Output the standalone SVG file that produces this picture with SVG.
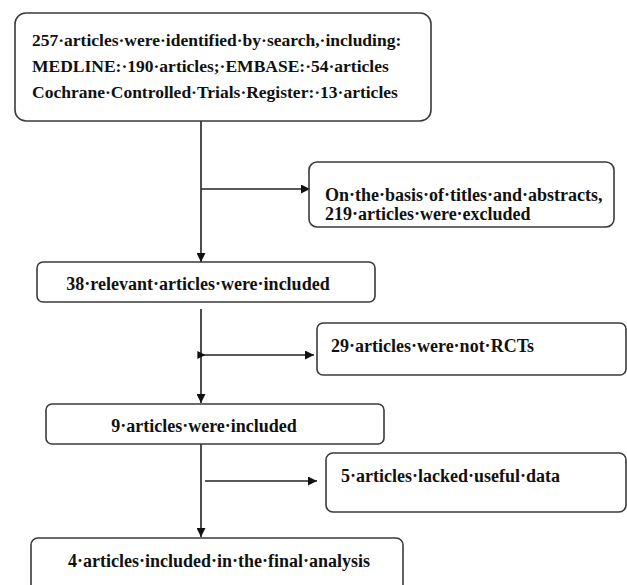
<svg xmlns="http://www.w3.org/2000/svg" width="627" height="585" viewBox="0 0 627 585">
<defs>
<style>
.box{fill:#fff;stroke:#3a3a3a;stroke-width:1.6}
.t{font-family:"Liberation Serif","Times New Roman",serif;font-weight:bold;font-size:18px;fill:#111}
.s{font-size:17.5px}
.c{text-anchor:middle}
.ln{fill:none;stroke:#222;stroke-width:1.6}
</style>
<marker id="ah" viewBox="0 0 10 10" refX="10" refY="5" markerWidth="9" markerHeight="9" markerUnits="userSpaceOnUse" orient="auto">
<path d="M0 0 L10 5 L0 10 Z" fill="#111"/>
</marker>
<marker id="as" viewBox="0 0 10 10" refX="2" refY="5" markerWidth="8" markerHeight="8" markerUnits="userSpaceOnUse" orient="auto">
<path d="M0 0 L10 5 L0 10 Z" fill="#111"/>
</marker>
</defs>
<rect width="627" height="585" fill="#fff"/>
<g id="connectors">
<path class="ln" d="M201 121 V262" marker-end="url(#ah)"/>
<path class="ln" d="M201 189 H310" marker-end="url(#ah)"/>
<path class="ln" d="M201 309 V403" marker-end="url(#ah)"/>
<path class="ln" d="M199 355 H314" marker-start="url(#as)" marker-end="url(#ah)"/>
<path class="ln" d="M201 443 V537" marker-end="url(#ah)"/>
<path class="ln" d="M205 481 H317" marker-end="url(#ah)"/>
</g>
<g id="n1">
<rect class="box" x="15" y="13" width="416" height="108" rx="11"/>
<text class="t s" x="32" y="46">257·articles·were·identified·by·search,·including:</text>
<text class="t s" x="32" y="72">MEDLINE:·190·articles;·EMBASE:·54·articles</text>
<text class="t s" x="32" y="98">Cochrane·Controlled·Trials·Register:·13·articles</text>
</g>
<g id="n2">
<rect class="box" x="309" y="162" width="305" height="65" rx="8"/>
<text class="t" x="325" y="201">On·the·basis·of·titles·and·abstracts,</text>
<text class="t" x="325" y="220">219·articles·were·excluded</text>
</g>
<g id="n3">
<rect class="box" x="37" y="262" width="338" height="40" rx="6"/>
<text class="t c" x="198" y="290">38·relevant·articles·were·included</text>
</g>
<g id="n4">
<rect class="box" x="317" y="323" width="309" height="52" rx="6"/>
<text class="t" x="331" y="352">29·articles·were·not·RCTs</text>
</g>
<g id="n5">
<rect class="box" x="46" y="404" width="338" height="40" rx="6"/>
<text class="t c" x="204" y="432">9·articles·were·included</text>
</g>
<g id="n6">
<rect class="box" x="326" y="453" width="300" height="59" rx="7"/>
<text class="t" x="341" y="482">5·articles·lacked·useful·data</text>
</g>
<g id="n7">
<rect class="box" x="31" y="538" width="372" height="60" rx="7"/>
<text class="t c" x="219" y="567">4·articles·included·in·the·final·analysis</text>
</g>
</svg>
